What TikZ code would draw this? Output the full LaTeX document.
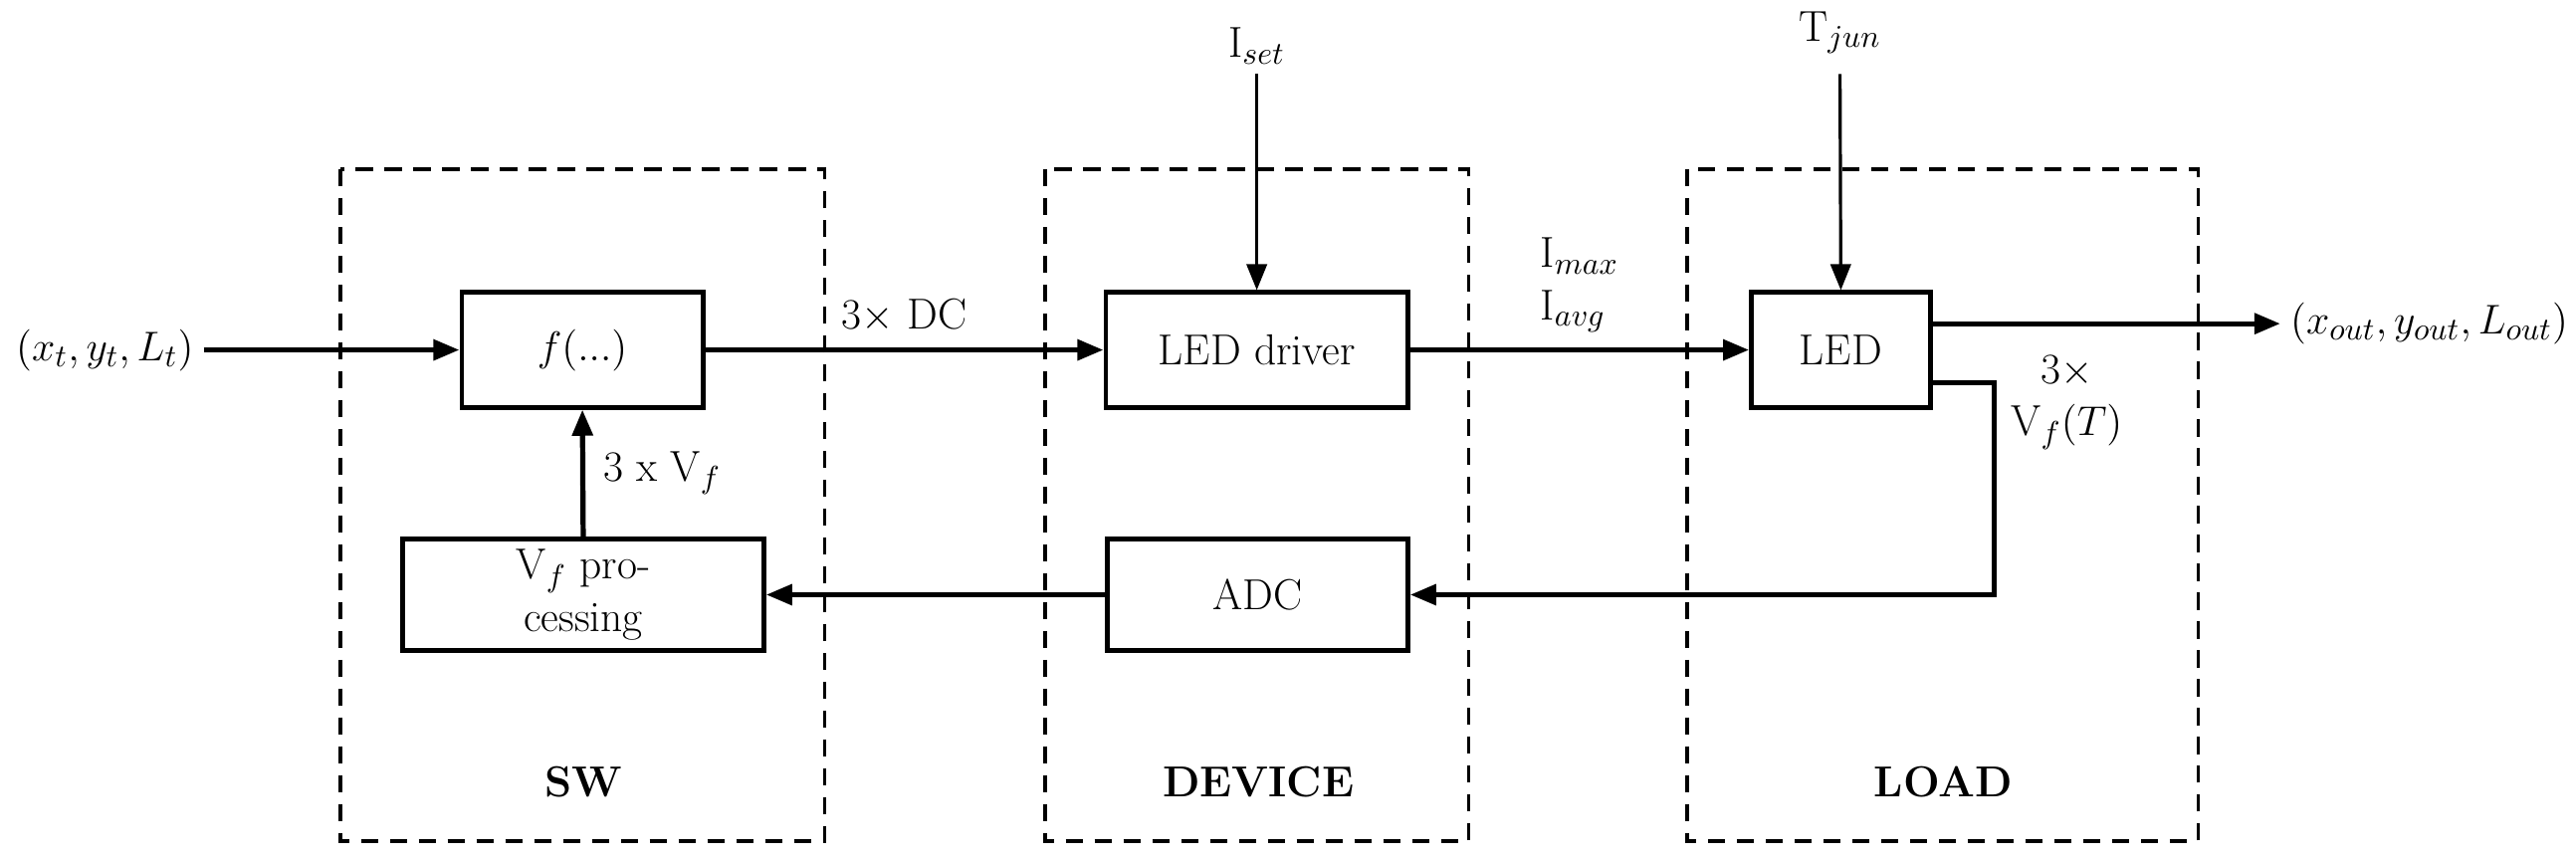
\documentclass[tikz,border=0pt]{standalone}
\usetikzlibrary{arrows.meta}
\begin{document}
\begin{tikzpicture}[x=0.02cm,y=-0.02cm,
  font=\fontsize{15}{18}\selectfont,
  blk/.style={draw,line width=1.6pt,minimum width=#1,inner sep=0pt},
  grp/.style={draw,line width=1.3pt,dash pattern=on 6pt off 4pt},
  ar/.style={line width=1.8pt,-{Triangle[length=9pt,width=7pt]}},
  thin/.style={line width=1.1pt,-{Triangle[length=9pt,width=7pt]}},
  lab/.style={font=\fontsize{15}{18}\selectfont\bfseries}]
\useasboundingbox (0,0) rectangle (1568,524);
\draw[grp] (207,103) rectangle (502,512);
\draw[grp] (636,103) rectangle (894,512);
\draw[grp] (1027,103) rectangle (1338,512);
\node[lab] (sw) at (355,476) {SW};
\node[lab] (dev) at (766,476) {DEVICE};
\node[lab] (load) at (1183,476) {LOAD};
\node[blk=2.94cm,minimum height=1.4cm] (f) at (354.5,213) {$f(...)$};
\node[blk=3.68cm,minimum height=1.4cm] (drv) at (765,213) {LED driver};
\node[blk=2.18cm,minimum height=1.4cm] (led) at (1120.5,213) {LED};
\node[blk=4.4cm,minimum height=1.36cm,align=center] (vf) at (355,362) {V$_f$ pro-\\cessing};
\node[blk=3.66cm,minimum height=1.36cm] (adc) at (765.5,362) {ADC};
\node[anchor=east] (in) at (124,213) {$(x_t, y_t, L_t)$};
\node[anchor=west] (out) at (1388,197) {$(x_{out}, y_{out}, L_{out})$};
\node (iset) at (765,28) {I$_{set}$};
\node (tjun) at (1120,20) {T$_{jun}$};
\coordinate (isetT) at (765,45);
\coordinate (tjunT) at (1120,45);
\draw[ar] (in.east) -- (f.west);
\draw[ar] (f.east) -- node[above,pos=0.5,yshift=2pt] {3$\times$ DC} (drv.west);
\draw[ar] (drv.east) -- node[above,align=left,yshift=2pt] {I$_{max}$\\I$_{avg}$} (led.west);
\draw[ar] (led.east|-out.west) -- (out.west);
\draw[thin] (isetT) -- (drv.north);
\draw[thin] (tjunT) -- (led.north);
\coordinate (c1) at (1175,233);
\coordinate (c2) at (1214,233);
\coordinate (c3) at (1214,362);
\draw[ar] (c1) -- (c2) -- (c3) -- (adc.east);
\node[align=center] (vft) at (1258,245) {3$\times$\\V$_f(T)$};
\draw[ar] (adc.west) -- (vf.east);
\draw[ar] (vf.north) -- node[right,xshift=3pt] {3 x V$_f$} (f.south);
\end{tikzpicture}
\end{document}
